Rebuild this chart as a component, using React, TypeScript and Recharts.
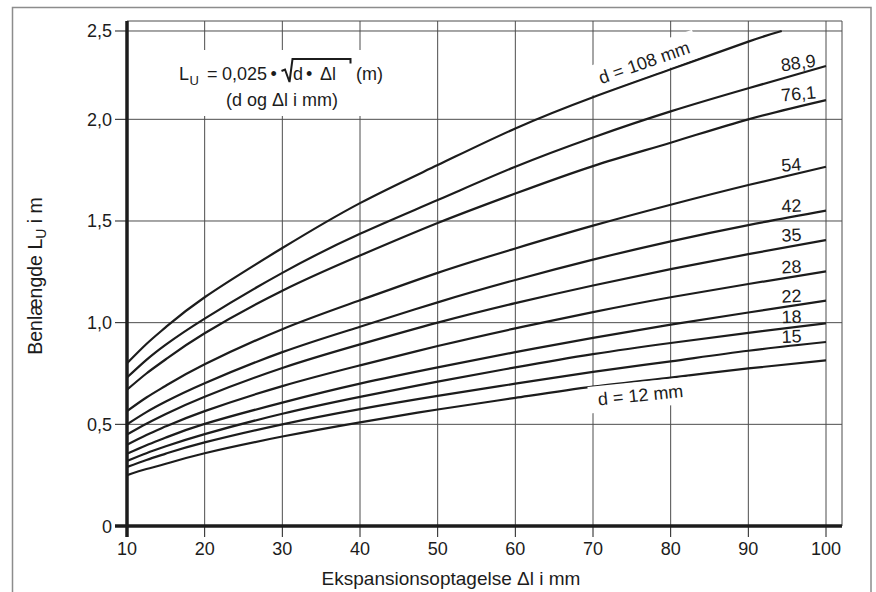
import { LineChart, Line, XAxis, YAxis, CartesianGrid } from "recharts";

// Δl in mm (extra readings near the start, where the curves bend most)
const xSteps = [10, 12.5, 15, 20, 30, 40, 50, 60, 70, 80, 90, 100];
// the 108 mm curve stops where it meets the 2,5 line
const x108 = [10, 12.5, 15, 20, 30, 40, 50, 60, 70, 80, 90, 94.3];
const xTicks = [10, 20, 30, 40, 50, 60, 70, 80, 90, 100];

// leg length L_U in m, per pipe diameter
const d108 = [0.8, 0.895, 0.978, 1.125, 1.367, 1.588, 1.775, 1.955, 2.125, 2.283, 2.44, 2.5];
const d889 = [0.73, 0.817, 0.892, 1.02, 1.245, 1.437, 1.603, 1.767, 1.911, 2.045, 2.176, 2.302];
const d761 = [0.67, 0.75, 0.82, 0.948, 1.157, 1.33, 1.49, 1.635, 1.77, 1.885, 2.0, 2.109];
const d54 = [0.565, 0.632, 0.69, 0.795, 0.968, 1.11, 1.245, 1.365, 1.477, 1.58, 1.677, 1.767];
const d42 = [0.5, 0.56, 0.612, 0.702, 0.855, 0.98, 1.1, 1.21, 1.31, 1.4, 1.48, 1.551];
const d35 = [0.45, 0.503, 0.551, 0.636, 0.777, 0.893, 1.0, 1.096, 1.183, 1.263, 1.337, 1.406];
const d28 = [0.4, 0.448, 0.49, 0.565, 0.688, 0.79, 0.885, 0.972, 1.052, 1.125, 1.19, 1.252];
const d22 = [0.355, 0.397, 0.435, 0.502, 0.607, 0.7, 0.78, 0.855, 0.925, 0.99, 1.05, 1.108];
const d18 = [0.32, 0.358, 0.392, 0.452, 0.552, 0.635, 0.71, 0.78, 0.845, 0.9, 0.95, 0.997];
const d15 = [0.29, 0.325, 0.356, 0.411, 0.5, 0.575, 0.64, 0.7, 0.758, 0.81, 0.862, 0.905];
const d12 = [0.25, 0.28, 0.306, 0.358, 0.44, 0.51, 0.573, 0.63, 0.685, 0.73, 0.775, 0.815];

const yTicks = [0, 0.5, 1, 1.5, 2, 2.5];

const FONT = "'Liberation Sans', Arial, Helvetica, sans-serif";
const INK = "#1c1c1c";
const PLOT_LEFT = 127;
const PLOT_BOTTOM = 526;

// the printed grid is squeezed between 2,0 and 2,5, so the y scale is piecewise
const yKnots = [0, 2, 2.5, 2.557];
const yFrac = [0, 0.8053, 0.9802, 1];

function makeYScale(dom0: number[] = [0, 2.557], rng0: number[] = [0, 1]): any {
  let dom = dom0.slice();
  let rng = rng0.slice();
  const s: any = (v: number) => {
    let i = 0;
    while (i < yKnots.length - 2 && v > yKnots[i + 1]) i++;
    const t = (v - yKnots[i]) / (yKnots[i + 1] - yKnots[i]);
    const f = yFrac[i] + t * (yFrac[i + 1] - yFrac[i]);
    return rng[0] + f * (rng[1] - rng[0]);
  };
  s.domain = (d?: number[]) => {
    if (d === undefined) return dom.slice();
    dom = d.slice();
    return s;
  };
  s.range = (r?: number[]) => {
    if (r === undefined) return rng.slice();
    rng = r.slice();
    return s;
  };
  s.copy = () => makeYScale(dom, rng);
  s.ticks = () => yTicks;
  s.tickFormat = () => (v: number) => String(v);
  s.nice = () => s;
  s.clamp = () => s;
  s.unknown = () => s;
  s.invert = (p: number) => {
    const f = (p - rng[0]) / (rng[1] - rng[0]);
    let i = 0;
    while (i < yFrac.length - 2 && f > yFrac[i + 1]) i++;
    const t = (f - yFrac[i]) / (yFrac[i + 1] - yFrac[i]);
    return yKnots[i] + t * (yKnots[i + 1] - yKnots[i]);
  };
  return s;
}

const yScale = makeYScale();

const toRows = (xs: number[], ys: number[]) => xs.map((x, i) => ({ x, y: ys[i] }));

const fmt = (v: number) => (v === 0 ? "0" : v.toFixed(1).replace(".", ","));

function YTick(props: any) {
  const { y, payload } = props;
  const v = payload.value;
  return (
    <g>
      <line x1={115} x2={PLOT_LEFT} y1={y} y2={y} stroke={INK} strokeWidth={v === 0 ? 3.5 : 1} />
      <text x={112} y={y + 6.5} textAnchor="end" fontSize={18} fontFamily={FONT} fill={INK}>
        {fmt(v)}
      </text>
    </g>
  );
}

function XTick(props: any) {
  const { x, payload } = props;
  const v = payload.value;
  return (
    <g>
      <line x1={x} x2={x} y1={PLOT_BOTTOM} y2={537} stroke={INK} strokeWidth={v === 10 ? 3.5 : 1} />
      <text x={x} y={555} textAnchor="middle" fontSize={18} fontFamily={FONT} fill={INK}>
        {v}
      </text>
    </g>
  );
}

const isPick = (p: any, idx: number, val: number) =>
  p.index === idx || (p.index == null && p.value === val);

// diameter tag at the right end of a curve
const endTag = (text: string, ys: number[], dy: number, angle: number) => (p: any) => {
  const last = ys.length - 1;
  if (!isPick(p, last, ys[last])) return <g />;
  const px = p.x ?? p.viewBox?.x;
  const py = p.y ?? p.viewBox?.y;
  const x = px - 44.3;
  const y = py + dy;
  return (
    <text x={x} y={y} transform={`rotate(${angle} ${x} ${y})`} fontSize={18} fontFamily={FONT} fill={INK}>
      {text}
    </text>
  );
};

// "d = .. mm" tag laid along a curve, on a white patch that hides the grid
const alongTag =
  (text: string, ys: number[], idx: number, dx: number, dy: number, angle: number, rect: number[]) =>
  (p: any) => {
    if (!isPick(p, idx, ys[idx])) return <g />;
    const px = p.x ?? p.viewBox?.x;
    const py = p.y ?? p.viewBox?.y;
    return (
      <g transform={`translate(${px + dx} ${py + dy}) rotate(${angle})`}>
        <rect x={rect[0]} y={rect[1]} width={rect[2]} height={rect[3]} fill="#fff" />
        <text x={0} y={0} textAnchor="middle" fontSize={18} fontFamily={FONT} fill={INK}>
          {text}
        </text>
      </g>
    );
  };

const series = [
  { key: "108", rows: toRows(x108, d108), label: alongTag("d = 108 mm", d108, 9, -24.5, -1, -19.5, [-60, -21, 116, 28.5]) },
  { key: "88.9", rows: toRows(xSteps, d889), label: endTag("88,9", d889, 5.5, -8) },
  { key: "76.1", rows: toRows(xSteps, d761), label: endTag("76,1", d761, 1.5, -5.5) },
  { key: "54", rows: toRows(xSteps, d54), label: endTag("54", d54, 5, -4.5) },
  { key: "42", rows: toRows(xSteps, d42), label: endTag("42", d42, 2, -3) },
  { key: "35", rows: toRows(xSteps, d35), label: endTag("35", d35, 1.6, -3) },
  { key: "28", rows: toRows(xSteps, d28), label: endTag("28", d28, 2, -3) },
  { key: "22", rows: toRows(xSteps, d22), label: endTag("22", d22, 2, -2.5) },
  { key: "18", rows: toRows(xSteps, d18), label: endTag("18", d18, 0, -2) },
  { key: "15", rows: toRows(xSteps, d15), label: endTag("15", d15, 1, -2) },
  { key: "12", rows: toRows(xSteps, d12), label: alongTag("d = 12 mm", d12, 9, -29.5, 23.7, -5.8, [-52, -19.5, 102, 26.5]) },
];

export default function App() {
  return (
    <div style={{ position: "absolute", left: 0, top: 0, width: 876, height: 592, background: "#fff" }}>
      <LineChart width={876} height={592} margin={{ top: 21, right: 34, bottom: 0, left: 0 }}>
        <rect x={12.5} y={7.5} width={858.5} height={600} fill="none" stroke="#8c8c8c" strokeWidth={1.5} />
        <CartesianGrid stroke="#4d4d4d" strokeWidth={1} />
        <XAxis
          type="number"
          dataKey="x"
          domain={[10, 102.06]}
          ticks={xTicks}
          interval={0}
          allowDataOverflow
          height={66}
          axisLine={{ stroke: INK, strokeWidth: 3.5 }}
          tickLine={false}
          tick={<XTick />}
        />
        <YAxis
          type="number"
          domain={[0, 2.557]}
          scale={yScale}
          ticks={yTicks}
          interval={0}
          allowDataOverflow
          width={127}
          axisLine={{ stroke: INK, strokeWidth: 3.5 }}
          tickLine={false}
          tick={<YTick />}
        />

        {/* formula box */}
        <rect x={168} y={50} width={228} height={66} fill="#fff" />
        <text fontSize={18} fontFamily={FONT} fill={INK}>
          <tspan x={179} y={80}>L</tspan>
          <tspan x={189.5} y={85} fontSize={13}>U</tspan>
          <tspan x={207} y={80}>=</tspan>
          <tspan x={222} y={80}>0,025</tspan>
          <tspan x={270.5} y={80}>•</tspan>
          <tspan x={293} y={80}>d</tspan>
          <tspan x={306} y={80}>•</tspan>
          <tspan x={320} y={80}>Δl</tspan>
          <tspan x={356} y={80}>(m)</tspan>
        </text>
        <path d="M281.5 71 L285 69.5 L289.5 82 L292.5 59 H350.5 V63.5" fill="none" stroke={INK} strokeWidth={2} />
        <text x={282} y={106} textAnchor="middle" fontSize={18} fontFamily={FONT} fill={INK}>
          (d og Δl i mm)
        </text>

        {/* axis titles */}
        <text transform="translate(42 276) rotate(-90)" textAnchor="middle" fontSize={19.5} fontFamily={FONT} fill={INK}>
          Benlængde L<tspan fontSize={14} dy={4}>U</tspan>
          <tspan dy={-4}> i m</tspan>
        </text>
        <text x={451} y={585} textAnchor="middle" fontSize={19} fontFamily={FONT} fill={INK}>
          Ekspansionsoptagelse Δl i mm
        </text>

        {series.map((s) => (
          <Line
            key={s.key}
            data={s.rows}
            dataKey="y"
            type="natural"
            stroke={INK}
            strokeWidth={2.2}
            dot={false}
            activeDot={false}
            isAnimationActive={false}
            label={s.label}
          />
        ))}
      </LineChart>
    </div>
  );
}
